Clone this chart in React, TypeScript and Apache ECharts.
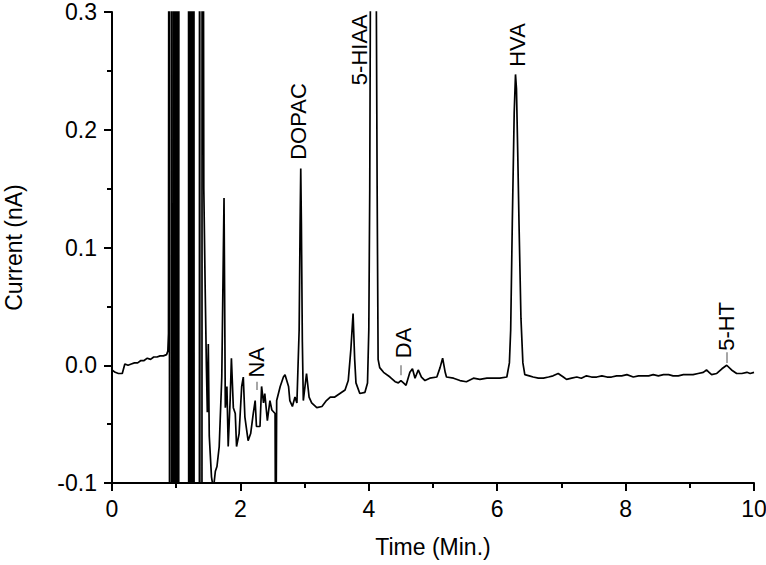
import React, { useEffect, useRef } from 'react';
import * as echarts from 'echarts';

// Chromatogram trace: [time (min), current (nA)]
const traceStart: [number, number][] = [
  [0, -0.004], [0.05, -0.006], [0.1, -0.007], [0.16, -0.007], [0.18, -0.003], [0.2, 0.001],
  [0.25, 0.0], [0.3, 0.001], [0.35, 0.002], [0.4, 0.002], [0.45, 0.004], [0.5, 0.004],
  [0.55, 0.006], [0.6, 0.005], [0.65, 0.007], [0.7, 0.007], [0.75, 0.008], [0.8, 0.008],
  [0.85, 0.009], [0.87, 0.012], [0.88, 0.027],
];

// off-scale injection burst (values outside the axis range are clipped)
const traceBurst: [number, number][] = [
  [0.892, 1.0], [0.897, -0.5], [0.925, -0.5], [0.928, 1.0], [0.932, -0.5],
  [0.955, -0.5], [0.96, 1.0], [0.966, -0.5], [0.972, 1.0], [0.978, -0.5], [0.984, 1.0],
  [0.99, -0.5], [0.996, 1.0], [1.002, -0.5], [1.008, 1.0], [1.014, -0.5], [1.02, 1.0],
  [1.026, -0.5], [1.032, 1.0], [1.038, -0.5], [1.044, 1.0],
  [1.19, 1.0], [1.196, -0.5], [1.202, 1.0], [1.208, -0.5], [1.214, 1.0], [1.22, -0.5],
  [1.226, 1.0], [1.232, -0.5], [1.238, 1.0], [1.244, -0.5], [1.25, 1.0], [1.256, -0.5],
  [1.262, 1.0], [1.268, -0.5], [1.274, 1.0], [1.28, -0.5],
  [1.36, -0.5], [1.365, 1.0], [1.37, -0.5], [1.4, -0.5], [1.405, 1.0],
];

const traceMid: [number, number][] = [
  [1.43, 0.15], [1.45, 0.07], [1.47, 0.0], [1.485, -0.04], [1.5, 0.018], [1.515, -0.06],
  [1.55, -0.095], [1.58, -0.105], [1.61, -0.09], [1.635, -0.086], [1.67, -0.069], [1.71, -0.01],
  [1.745, 0.142], [1.765, -0.036], [1.79, -0.018], [1.81, -0.069], [1.84, -0.03], [1.86, 0.006],
  [1.89, -0.036], [1.92, -0.041], [1.94, -0.069], [1.98, -0.058], [2.02, -0.018], [2.045, -0.01],
  [2.07, -0.044], [2.12, -0.064], [2.16, -0.058], [2.2, -0.041], [2.23, -0.03], [2.25, -0.052],
  [2.305, -0.052], [2.33, -0.018], [2.36, -0.032], [2.38, -0.024], [2.42, -0.047], [2.46, -0.03],
  [2.49, -0.038], [2.54, -0.041], [2.55, -0.2], [2.565, -0.03], [2.62, -0.018], [2.67, -0.01],
  [2.695, -0.008], [2.75, -0.018], [2.77, -0.03], [2.81, -0.035], [2.85, -0.027], [2.88, -0.032],
  [2.915, 0.03], [2.93, 0.12], [2.94, 0.167], [2.95, 0.12], [2.965, 0.02], [2.98, -0.03],
  [3.03, -0.007], [3.07, -0.027], [3.11, -0.032], [3.19, -0.036], [3.27, -0.035], [3.34, -0.03],
  [3.4, -0.027], [3.47, -0.027], [3.55, -0.024], [3.63, -0.021], [3.68, -0.013], [3.72, 0.013],
  [3.755, 0.044], [3.78, 0.005], [3.8, -0.015], [3.86, -0.024], [3.94, -0.023], [3.98, -0.015],
  [4.0, 0.03], [4.015, 0.15], [4.03, 0.4], [4.07, 0.7], [4.11, 0.4], [4.13, 0.15], [4.145, 0.005],
  [4.17, -0.002], [4.23, -0.006], [4.33, -0.01], [4.41, -0.014], [4.46, -0.015], [4.5, -0.013],
  [4.54, -0.015], [4.58, -0.017], [4.64, -0.006], [4.68, -0.003], [4.72, -0.011], [4.77, -0.004],
  [4.82, -0.01], [4.875, -0.013], [4.95, -0.011], [5.06, -0.01], [5.11, -0.002], [5.15, 0.006],
  [5.19, -0.006], [5.21, -0.01], [5.32, -0.011], [5.42, -0.013], [5.52, -0.014], [5.63, -0.011],
  [5.73, -0.012], [5.84, -0.011], [5.94, -0.011], [6.04, -0.011], [6.15, -0.01],
];

const traceLate: [number, number][] = [
  [6.19, 0.002], [6.21, 0.03], [6.235, 0.12], [6.265, 0.215], [6.285, 0.247], [6.3, 0.235],
  [6.32, 0.18], [6.34, 0.12], [6.37, 0.04], [6.4, 0.002], [6.43, -0.008], [6.5, -0.009],
  [6.56, -0.01], [6.64, -0.011], [6.72, -0.011], [6.8, -0.01], [6.87, -0.009], [6.95, -0.007],
  [7.03, -0.01], [7.08, -0.012], [7.16, -0.011], [7.24, -0.01], [7.31, -0.011], [7.39, -0.009],
  [7.47, -0.01], [7.55, -0.01], [7.63, -0.009], [7.71, -0.01], [7.78, -0.01], [7.86, -0.009],
  [7.94, -0.009], [8.02, -0.008], [8.12, -0.01], [8.2, -0.009], [8.28, -0.009], [8.36, -0.009],
  [8.43, -0.008], [8.51, -0.009], [8.59, -0.008], [8.67, -0.008], [8.74, -0.009], [8.82, -0.009],
  [8.9, -0.008], [8.98, -0.008], [9.05, -0.008], [9.13, -0.007], [9.21, -0.006], [9.26, -0.004],
  [9.3, -0.006], [9.34, -0.008], [9.42, -0.007], [9.5, -0.003], [9.575, 0.0], [9.65, -0.004],
  [9.73, -0.007], [9.81, -0.007], [9.89, -0.006], [9.94, -0.007], [10.0, -0.006],
];

const trace = [...traceStart, ...traceBurst, ...traceMid, ...traceLate];

// Peak labels: name, time, current (label centre)
const peakNames = ['NA', 'DOPAC', '5-HIAA', 'DA', 'HVA', '5-HT'];
const peakLabelTimes = [2.25, 2.905, 3.855, 4.54, 6.316, 9.57];
const peakLabelCurrents = [0.0025, 0.207, 0.268, 0.019, 0.272, 0.033];

// leader ticks: [time, currentTop, currentBottom]
const leaders: [number, number, number][] = [
  [2.255, -0.014, -0.021],
  [4.5, 0.0, -0.0085],
  [9.58, 0.011, 0.002],
];

const FONT = '"Liberation Sans", Arial, Helvetica, sans-serif';

export default function App() {
  const ref = useRef<HTMLDivElement>(null);
  useEffect(() => {
    if (!ref.current) return;
    const chart = echarts.init(ref.current, undefined, { renderer: 'svg' });
    chart.setOption({
      animation: false,
      backgroundColor: '#fff',
      textStyle: { fontFamily: FONT },
      grid: { left: 112, right: 12, top: 12, bottom: 82, containLabel: false, outerBoundsMode: 'none' },
      xAxis: {
        type: 'value',
        min: 0,
        max: 10,
        interval: 2,
        name: 'Time (Min.)',
        nameLocation: 'middle',
        nameGap: 52,
        nameTextStyle: { fontSize: 23, color: '#000', fontFamily: FONT },
        axisLine: { show: true, onZero: false, lineStyle: { color: '#000', width: 2 } },
        axisTick: { show: true, inside: false, length: 8, lineStyle: { color: '#000', width: 2 } },
        minorTick: { show: true, splitNumber: 2, length: 5, lineStyle: { color: '#000', width: 2 } },
        splitLine: { show: false },
        axisLabel: { fontSize: 23, color: '#000', margin: 14, fontFamily: FONT },
      },
      yAxis: {
        type: 'value',
        min: -0.1,
        max: 0.3,
        interval: 0.1,
        name: 'Current (nA)',
        nameLocation: 'middle',
        nameGap: 87,
        nameRotate: 90,
        nameTextStyle: { fontSize: 23, lineHeight: 22, color: '#000', fontFamily: FONT },
        axisLine: { show: true, onZero: false, lineStyle: { color: '#000', width: 2 } },
        axisTick: { show: true, inside: false, length: 8, lineStyle: { color: '#000', width: 2 } },
        minorTick: { show: true, splitNumber: 2, length: 5, lineStyle: { color: '#000', width: 2 } },
        splitLine: { show: false },
        axisLabel: {
          fontSize: 23,
          lineHeight: 18,
          color: '#000',
          margin: 15,
          fontFamily: FONT,
          formatter: (v: number) => (Math.abs(v) < 1e-9 ? '0.0' : v.toFixed(1)),
        },
      },
      series: [
        {
          type: 'line',
          data: trace,
          showSymbol: false,
          symbol: 'none',
          clip: true,
          lineStyle: { color: '#000', width: 1.7 },
          markPoint: {
            symbol: 'rect',
            symbolSize: 1,
            itemStyle: { color: 'rgba(0,0,0,0)' },
            label: {
              show: true,
              position: 'inside',
              rotate: 90,
              formatter: '{b}',
              fontSize: 22,
              color: '#000',
              fontFamily: FONT,
            },
            data: peakNames.map((n, i) => ({ name: n, coord: [peakLabelTimes[i], peakLabelCurrents[i]] })),
          },
          markLine: {
            symbol: 'none',
            silent: true,
            label: { show: false },
            lineStyle: { color: '#888', width: 1.5, type: 'solid' },
            data: leaders.map(([t, a, b]) => [{ coord: [t, a] }, { coord: [t, b] }]),
          },
        },
      ],
    });
    return () => chart.dispose();
  }, []);
  return <div ref={ref} style={{ position: 'absolute', left: 0, top: 0, width: 766, height: 565 }} />;
}
